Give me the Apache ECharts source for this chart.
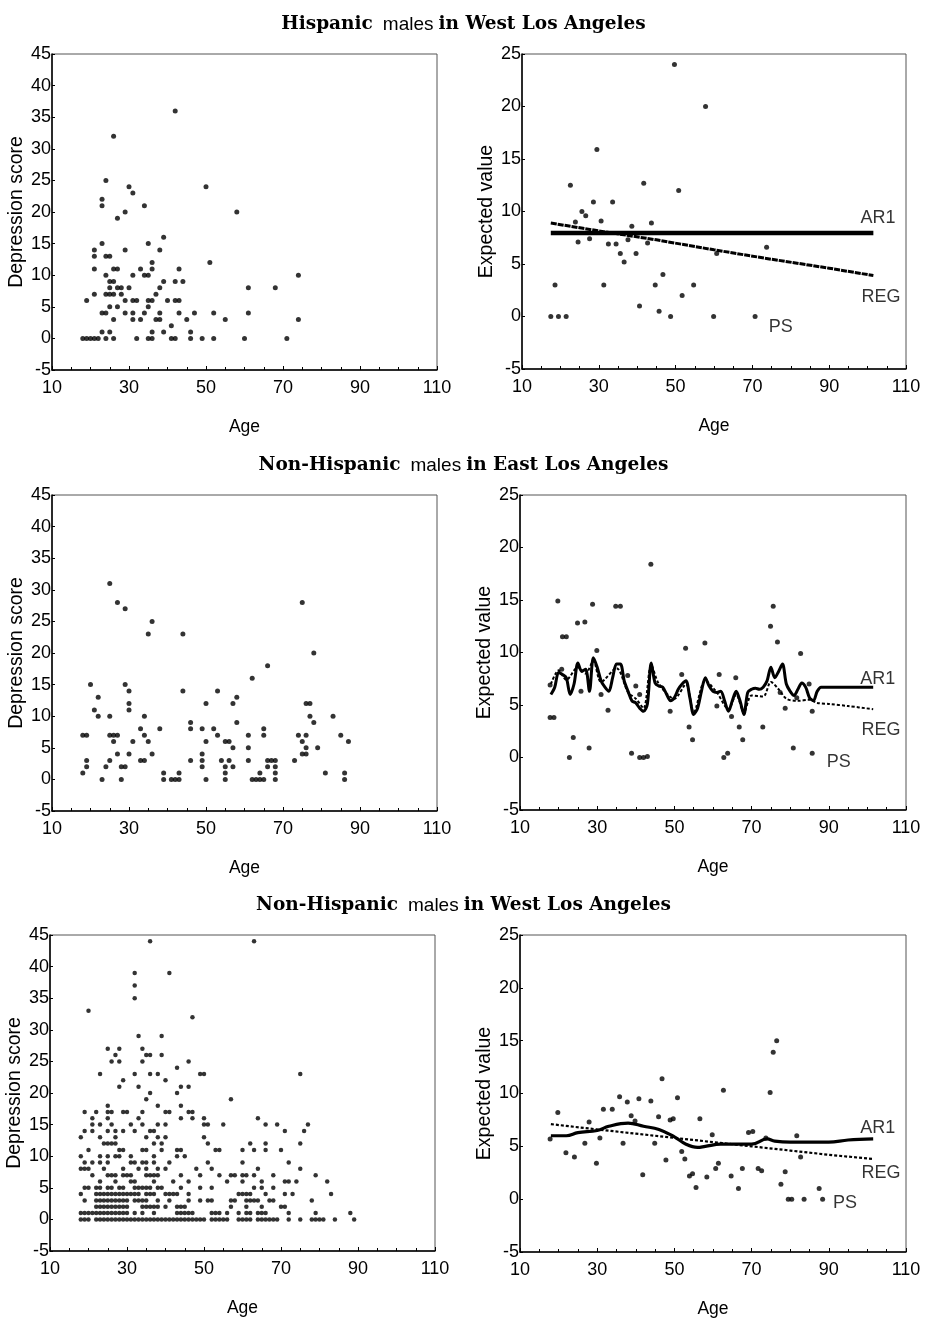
<!DOCTYPE html>
<html><head><meta charset="utf-8">
<script src="https://cdn.jsdelivr.net/npm/echarts@6/dist/echarts.min.js"></script>
<style>html,body{margin:0;padding:0;background:#fff}#c{width:927px;height:1321px}</style>
</head><body><div id="c"></div>
<script>
// ---------- titles / labels ----------
const panelTitles = [
  ['Hispanic', 'males', 'in West Los Angeles'],
  ['Non-Hispanic', 'males', 'in East Los Angeles'],
  ['Non-Hispanic', 'males', 'in West Los Angeles']
];
const xName = 'Age';
const yNameLeft = 'Depression score';
const yNameRight = 'Expected value';

// ---------- Panel 1: Hispanic, West LA — raw scores [age, score] ----------
const hwScores = [[42,36],[26,32],[24,25],[30,24],[31,23],[50,24],[23,22],[23,21],[34,21],[29,20],[27,19],[58,20],[39,16],[23,15],[35,15],[21,14],[21,13],[24,13],[25,13],[29,14],[38,14],[36,12],[36,11],[51,12],[21,11],[26,11],[27,11],[33,11],[43,11],[24,10],[31,10],[34,10],[35,10],[74,10],[25,9],[26,9],[39,9],[42,9],[44,9],[25,8],[27,8],[28,8],[30,8],[38,8],[61,8],[68,8],[21,7],[24,7],[25,7],[26,7],[28,7],[37,7],[19,6],[29,6],[31,6],[32,6],[35,6],[36,6],[40,6],[42,6],[43,6],[25,5],[27,5],[35,5],[23,4],[24,4],[29,4],[31,4],[34,4],[38,4],[43,4],[47,4],[52,4],[61,4],[26,3],[31,3],[33,3],[37,3],[38,3],[45,3],[55,3],[74,3],[41,2],[23,1],[25,1],[36,1],[39,1],[46,1],[18,0],[19,0],[20,0],[21,0],[22,0],[24,0],[26,0],[32,0],[35,0],[36,0],[41,0],[42,0],[46,0],[49,0],[52,0],[60,0],[71,0]];

// ---------- Panel 2: expected values ----------
const hwPS = [[49.7,24.0],[57.8,20.0],[29.5,15.9],[22.6,12.5],[41.7,12.7],[50.8,12.0],[28.6,10.9],[33.6,10.9],[25.6,10.0],[26.6,9.6],[30.6,9.1],[38.6,8.6],[43.7,8.9],[73.7,6.6],[24.6,7.1],[32.5,6.9],[34.5,6.9],[35.6,6.0],[36.6,5.2],[39.7,6.0],[37.6,7.3],[27.6,7.4],[42.7,7.0],[60.7,6.0],[18.6,3.0],[31.3,3.0],[44.7,3.0],[46.7,4.0],[54.7,3.0],[51.7,2.0],[40.6,1.0],[45.7,0.5],[17.5,0],[19.5,0],[21.5,0],[48.7,0],[59.9,0],[70.7,0],[23.9,9.0]];
const hwAR1 = [[17.5,7.95],[40,7.95],[70,7.95],[101.5,7.95]];
const hwREG = [[17.5,8.9],[30,8.15],[45,7.3],[60,6.35],[75,5.45],[90,4.6],[101.5,3.9]];

// ---------- Panel 3: Non-Hispanic, East LA — raw scores ----------
const neScores = [[25,31],[27,28],[29,27],[36,25],[35,23],[44,23],[75,28],[78,20],[66,18],[62,16],[20,15],[29,15],[30,14],[44,14],[53,14],[22,13],[58,13],[30,12],[30,11],[50,12],[57,12],[76,12],[77,12],[21,11],[22,10],[25,10],[34,10],[77,10],[83,10],[78,9],[58,9],[46,9],[46,8],[33,8],[38,8],[49,8],[52,8],[65,8],[65,7],[18,7],[19,7],[25,7],[26,7],[27,7],[34,7],[53,7],[61,7],[74,7],[76,7],[85,7],[26,6],[31,6],[35,6],[50,6],[55,6],[56,6],[75,6],[87,6],[57,5],[61,5],[76,5],[79,5],[75,4],[76,4],[27,4],[30,4],[36,4],[49,4],[25,3],[33,3],[34,3],[46,3],[54,3],[56,3],[61,3],[49,3],[66,3],[67,3],[68,3],[73,3],[19,3],[19,2],[24,2],[28,2],[29,2],[49,2],[57,2],[66,2],[55,2],[55,1],[68,2],[68,1],[18,1],[39,1],[43,1],[81,1],[86,1],[64,1],[23,0],[28,0],[39,0],[41,0],[42,0],[43,0],[50,0],[55,0],[62,0],[63,0],[64,0],[65,0],[68,0],[86,0]];

// ---------- Panel 4 ----------
const nePS = [[43.9,18.4],[19.8,14.9],[28.8,14.6],[34.8,14.4],[36,14.4],[75.6,14.4],[24.9,12.8],[26.8,12.9],[74.9,12.5],[21,11.5],[22,11.5],[57.9,10.9],[76.7,11],[52.9,10.4],[82.7,9.9],[29.9,10.2],[17.8,6.9],[20.8,8.4],[25.8,6.3],[32.8,4.5],[31,6.0],[37.9,7.8],[40,6.8],[41,6],[48.9,4.4],[51.9,7.9],[53.8,2.9],[54.7,1.7],[61,4.9],[61.6,7.9],[64.8,3.9],[65.9,7.6],[66.8,2.9],[67.7,1.7],[72.9,2.9],[17.8,3.8],[18.8,3.8],[23.8,1.9],[22.8,0],[27.9,0.9],[38.9,0.4],[41,0],[42,0],[43,0.1],[62.8,0],[63.8,0.4],[80.8,0.9],[85.7,0.4],[84.9,7.0],[85.7,4.4],[78.7,4.7],[77.4,6.2],[81.7,5.7]];
const neAR1 = [[18,6.0],[19,6.7],[20,8.1],[21,7.9],[22,7.6],[23,6.0],[24,7.0],[25,9.0],[26,8.2],[27,8.4],[28,6.3],[29,9.5],[30,8.6],[31,7.3],[32,6.7],[33,6.3],[34,7.6],[35,8.9],[36,8.9],[37,7.3],[38,6.3],[39,5.4],[40,5.2],[41,4.7],[42,4.4],[43,5.1],[44,9.0],[45,7.1],[46,6.8],[47,6.7],[48,6.0],[49,5.4],[50,5.7],[51,6.5],[52,7.0],[53,7.3],[54,5.7],[55,4.1],[56,4.7],[57,6.3],[58,7.6],[59,6.8],[60,6.3],[61,6.2],[62,6.3],[63,5.4],[64,4.4],[65,5.4],[66,6.3],[67,5.4],[68,4.1],[69,6.2],[70,6.5],[71,6.6],[72,6.5],[73,6.7],[74,7.3],[75,8.6],[76,7.6],[77,8.2],[78,8.9],[79,7.0],[80,6.3],[81,5.9],[82,6.5],[83,7.1],[84,6.7],[85,5.7],[86,5.4],[87,6.3],[88,6.7],[90,6.7],[100,6.7],[101.5,6.7]];
const neREG = [[18,7.0],[20,8.3],[22,7.4],[25,8.6],[27,8.0],[29,9.2],[31,7.2],[35,8.5],[38,6.2],[40,5.6],[42,4.7],[44,8.8],[46,7.0],[50,5.6],[53,7.0],[55,4.3],[58,7.3],[61,6.2],[64,4.6],[66,6.0],[68,4.3],[70,5.9],[73,5.8],[75,7.2],[77,6.5],[79,5.6],[82,5.4],[85,5.5],[87,5.2],[90,5.1],[95,4.9],[101.5,4.6]];

// ---------- Panel 5: Non-Hispanic, West LA — raw scores, rows of [score, ages] ----------
const nwRows = [
[44,[36,63]],[39,[32,41]],[37,[32]],[35,[32]],[33,[20]],[32,[47]],[29,[33,39]],
[27,[25,28,34]],[26,[27,35,36,39]],[25,[26,28,34,46]],[24,[43]],
[23,[23,32,36,38,49,50,75]],[22,[29,40]],[21,[28,33,44,46]],[20,[36,43]],[19,[35,57]],[18,[25,38,44]],
[17,[19,22,25,26,29,30,34,40,41,46,47]],
[16,[21,25,33,44,47,50,64]],
[15,[21,23,26,31,34,38,40,50,51,55,66,69,77]],
[14,[19,21,25,27,29,32,36,37,71,76]],
[13,[18,23,27,35,38,40,50]],
[12,[24,25,26,27,37,39,51,62,66,75]],
[11,[20,28,29,34,35,39,43,44,53,54,60,63,66,70]],
[10,[18,23,25,27,28,31,37,43,45]],
[9,[19,21,23,25,31,32,34,35,37,41,51,60,72]],
[8,[18,19,20,24,29,33,35,38,40,48,52,64,75]],
[7,[21,25,26,27,29,30,31,35,36,37,38,44,49,54,57,58,60,61,63,68,79]],
[6,[23,27,31,32,37,42,46,56,60,65,71,72,74,82]],
[5,[19,20,22,23,25,26,28,29,32,33,34,35,36,38,39,44,49,52,63,65,68]],
[4,[18,22,23,24,25,26,27,28,29,30,31,32,33,35,36,37,40,41,42,43,46,59,60,61,62,66,71,73,83]],
[3,[19,22,23,24,25,26,27,28,29,30,32,33,34,35,38,41,46,49,51,52,57,58,61,62,63,64,67,68,78]],
[2,[22,23,24,25,26,27,28,29,30,34,35,36,37,38,40,43,44,45,57,61,65,70,71]],
[1,[18,19,20,21,22,23,24,25,26,27,28,29,30,32,34,37,43,44,45,46,47,52,53,54,56,59,61,62,64,65,66,72,79,88]],
[0,[18,19,20,22,23,24,25,26,27,28,29,30,31,32,33,34,35,36,37,38,39,40,41,42,43,44,45,46,47,48,49,50,52,53,54,55,56,59,60,61,62,64,65,66,67,68,69,72,75,78,79,80,81,84,89]]
];

// ---------- Panel 6 ----------
const nwPS = [[76.5,15.0],[75.6,13.9],[74.8,10.1],[62.7,10.3],[46.8,11.4],[50.8,9.6],[35.8,9.7],[37.8,9.2],[40.8,9.5],[43.9,9.3],[31.6,8.5],[33.9,8.5],[19.8,8.2],[38.8,7.9],[45.9,7.8],[48.9,7.5],[49.7,7.6],[56.6,7.6],[27.9,7.3],[39.8,7.4],[69.2,6.3],[70.3,6.4],[59.8,6.1],[81.7,6.0],[73.7,5.8],[17.8,5.7],[30.7,5.8],[26.8,5.3],[36.7,5.3],[44.9,5.3],[51.9,4.5],[21.9,4.4],[24.1,4.0],[47.8,3.7],[52.7,3.8],[29.8,3.4],[61.4,3.4],[60.7,2.9],[82.7,4.0],[67.6,2.9],[71.7,2.9],[72.6,2.7],[78.7,2.6],[41.8,2.3],[53.9,2.2],[54.7,2.4],[58.4,2.1],[64.7,2.2],[77.6,1.4],[55.6,1.1],[66.6,1.0],[87.5,1.0],[79.5,0],[80.4,0],[83.6,0],[88.4,0]];
const nwAR1 = [[18,6.0],[22,6.0],[25,6.3],[30,6.5],[33,6.9],[38,7.2],[42,6.9],[46,6.6],[50,5.9],[53,5.2],[56,4.9],[58,5.0],[62,5.2],[66,5.2],[70,5.2],[74,5.7],[76,5.5],[80,5.4],[90,5.4],[95,5.6],[101.5,5.7]];
const nwREG = [[18,7.1],[30,6.6],[40,6.2],[50,5.8],[60,5.4],[70,5.0],[80,4.6],[90,4.2],[101.5,3.8]];

// Curve-label anchors (data coordinates) for each expected-value panel
const curveLabels = [
  [{name:'AR1', value:[102.7,9.4]}, {name:'REG', value:[103.5,1.9]}, {name:'PS', value:[77.4,-1.0]}],
  [{name:'AR1', value:[102.7,7.5]}, {name:'REG', value:[103.5,2.6]}, {name:'PS', value:[92.6,-0.4]}],
  [{name:'AR1', value:[102.7,6.7]}, {name:'REG', value:[103.5,2.5]}, {name:'PS', value:[94.2,-0.4]}]
];

// ---------- build ----------
const nwScores = [];
nwRows.forEach(r => r[1].forEach(a => nwScores.push([a, r[0]])));

const SANS = 'Liberation Sans, Arial, sans-serif';
const grids = [
  {left:52, top:54, width:385, height:316},
  {left:522, top:54, width:384, height:315},
  {left:52, top:495, width:385, height:316},
  {left:520, top:495, width:386, height:315},
  {left:50, top:935, width:385, height:316},
  {left:520, top:935, width:386, height:317}
].map(g => Object.assign(g, {show:true, borderColor:'#555', borderWidth:1, backgroundColor:'transparent'}));

const xAxes = [], yAxes = [];
for (let i = 0; i < 6; i++) {
  const right = i % 2 === 1;
  xAxes.push({
    type:'value', gridIndex:i, min:10, max:110, interval:20,
    name:xName, nameLocation:'middle', nameGap:48,
    nameTextStyle:{fontFamily:SANS, fontSize:17.5, color:'#000'},
    axisLine:{show:true, onZero:false, lineStyle:{color:'#000', width:1.5}},
    axisTick:{show:true, inside:true, length:4, lineStyle:{color:'#000'}},
    minorTick:{show:true, splitNumber:4, length:3, lineStyle:{color:'#000'}},
    axisLabel:{fontFamily:SANS, fontSize:18, color:'#000', margin:9},
    splitLine:{show:false}
  });
  yAxes.push({
    type:'value', gridIndex:i, min:-5, max: right ? 25 : 45, interval:5,
    name: right ? yNameRight : yNameLeft, nameLocation:'middle', nameGap:21,
    nameTextStyle:{fontFamily:SANS, fontSize:19.5, color:'#000'},
    axisLine:{show:true, onZero:false, lineStyle:{color:'#000', width:1.5}},
    axisTick:{show:true, inside:true, length:3, lineStyle:{color:'#000'}},
    axisLabel:{fontFamily:SANS, fontSize:18, color:'#000', margin:1},
    splitLine:{show:false}
  });
}

const dot = (data, i, size) => ({type:'scatter', xAxisIndex:i, yAxisIndex:i, data, symbolSize:size, itemStyle:{color:'#000'}, silent:true});
const curve = (data, i, w, dash, smooth) => ({type:'line', xAxisIndex:i, yAxisIndex:i, data, showSymbol:false, smooth:smooth||false,
  lineStyle:{color:'#000', width:w, type:dash||'solid'}, silent:true, z:3});
const lbls = (data, i) => ({type:'scatter', xAxisIndex:i, yAxisIndex:i, data, symbolSize:0, silent:true, z:5,
  label:{show:true, position:'inside', formatter:'{b}', color:'#000', fontFamily:SANS, fontSize:18}});

const series = [
  dot(hwScores, 0, 5),
  dot(hwPS, 1, 5), curve(hwAR1, 1, 4.5), curve(hwREG, 1, 3, [6,1]), lbls(curveLabels[0], 1),
  dot(neScores, 2, 5),
  dot(nePS, 3, 5), curve(neAR1, 3, 3, 'solid', 0.3), curve(neREG, 3, 2, [3,2], 0.3), lbls(curveLabels[1], 3),
  dot(nwScores, 4, 4.5),
  dot(nwPS, 5, 5), curve(nwAR1, 5, 3.2, 'solid', 0.4), curve(nwREG, 5, 2.2, [3,2]), lbls(curveLabels[2], 5)
];

const titleTops = [10, 451, 891];
const titles = panelTitles.map((t, k) => ({
  text: '{b|' + t[0] + '}  {r|' + t[1] + '} {b|' + t[2] + '}',
  left:'center', top:titleTops[k],
  textStyle:{rich:{
    b:{fontFamily:'DejaVu Serif, serif', fontWeight:'bold', fontSize:18.5, color:'#000'},
    r:{fontFamily:SANS, fontWeight:'normal', fontSize:19, color:'#000'}
  }}
}));

const chart = echarts.init(document.getElementById('c'), null, {renderer:'canvas'});
chart.setOption({
  animation:false, backgroundColor:'#fff',
  title: titles, grid: grids, xAxis: xAxes, yAxis: yAxes, series
});
</script></body></html>
